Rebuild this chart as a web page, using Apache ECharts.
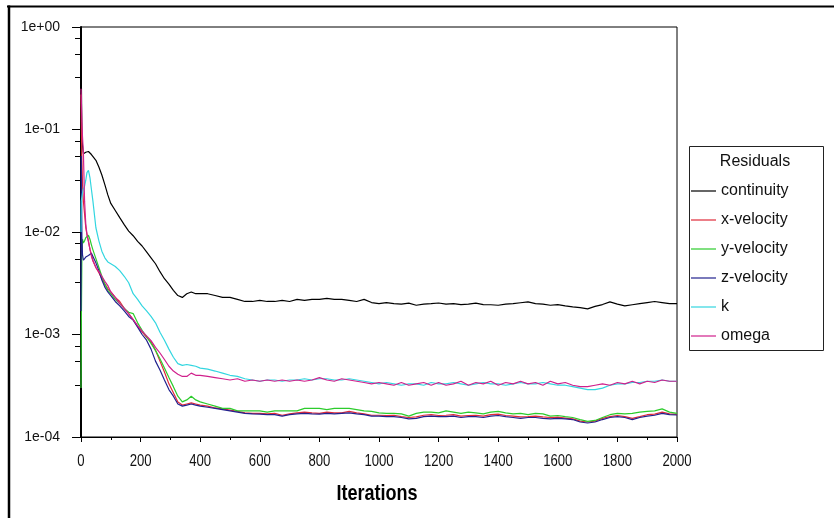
<!DOCTYPE html>
<html>
<head>
<meta charset="utf-8">
<script src="https://cdn.jsdelivr.net/npm/echarts@6/dist/echarts.min.js"></script>
<style>
  html, body { margin: 0; padding: 0; background: #fff; }
  #chart { width: 834px; height: 518px; }
</style>
</head>
<body>
<div id="chart"></div>
<script>
// Solver iteration numbers at which residuals are sampled
const iterations = [
  0, 1, 3, 5, 8, 12, 16, 20, 25, 30, 35, 40, 50, 60, 70, 80, 90, 100, 115, 130,
  145, 160, 175, 190, 205, 220, 235, 250, 265, 280, 295, 310, 325, 340, 355, 370, 385, 400,
  425, 450, 475, 500, 525, 550, 575, 600,
  625, 650, 675, 700, 725, 750, 775, 800,
  825, 850, 875, 900, 925, 950, 975, 1000,
  1025, 1050, 1075, 1100, 1125, 1150, 1175, 1200,
  1225, 1250, 1275, 1300, 1325, 1350, 1375, 1400,
  1425, 1450, 1475, 1500, 1525, 1550, 1575, 1600,
  1625, 1650, 1675, 1700, 1725, 1750, 1775, 1800,
  1825, 1850, 1875, 1900, 1925, 1950, 1975, 2000
];

const continuity = [
  1.0, 0.35, 0.09, 0.07, 0.058, 0.057, 0.06, 0.061, 0.061, 0.059, 0.057, 0.055, 0.05, 0.043, 0.036, 0.029, 0.023, 0.019, 0.0162, 0.0138,
  0.0118, 0.0102, 0.0092, 0.0081, 0.0073, 0.0064, 0.0056, 0.0049, 0.0041, 0.0035, 0.0031, 0.0027, 0.0024, 0.0023, 0.0025, 0.0026, 0.0025, 0.0025,
  0.0025, 0.0024, 0.0023, 0.0023, 0.0022, 0.0021, 0.0021, 0.00215,
  0.0021, 0.0021, 0.00215, 0.0021, 0.0022, 0.00215, 0.0022, 0.0022,
  0.00225, 0.0022, 0.0022, 0.00215, 0.0021, 0.0022, 0.00205, 0.002,
  0.00205, 0.002, 0.00198, 0.00202, 0.00193, 0.00198, 0.002, 0.00203,
  0.00198, 0.002, 0.00196, 0.00198, 0.00202, 0.00196, 0.00195, 0.00193,
  0.00198, 0.002, 0.00204, 0.00208, 0.002, 0.00198, 0.00193, 0.00196,
  0.0019, 0.00186, 0.00183, 0.00178, 0.00188, 0.00196, 0.00208, 0.00198,
  0.0019, 0.00195, 0.002, 0.00205, 0.0021, 0.00205, 0.002, 0.002
];

const xVelocity = [
  0.22, 0.12, 0.05, 0.03, 0.02, 0.015, 0.011, 0.0095, 0.0082, 0.0068, 0.006, 0.0053, 0.0045, 0.004, 0.0035, 0.0031, 0.0028, 0.0026, 0.0023, 0.0021,
  0.0018, 0.0016, 0.0014, 0.0012, 0.00106, 0.00094, 0.00085, 0.0007, 0.00055, 0.00043, 0.00033, 0.00027, 0.00022, 0.000205, 0.00021, 0.000215, 0.00021, 0.000205,
  0.0002, 0.000192, 0.000188, 0.000183, 0.000178, 0.000172, 0.00017, 0.00017,
  0.000168, 0.00017, 0.000163, 0.000168, 0.000172, 0.000175, 0.000172, 0.00017,
  0.000175, 0.000172, 0.000172, 0.000178, 0.000172, 0.000168, 0.000163, 0.000163,
  0.000162, 0.000163, 0.000158, 0.000155, 0.000157, 0.000163, 0.000165, 0.000162,
  0.000163, 0.000165, 0.00016, 0.000162, 0.000163, 0.00016, 0.000165, 0.000167,
  0.000162, 0.00016, 0.000157, 0.000158, 0.00016, 0.000157, 0.000155, 0.000156,
  0.000153, 0.00015, 0.000143, 0.00014, 0.000143, 0.000152, 0.000158, 0.000162,
  0.000158, 0.000152, 0.000158, 0.000165, 0.000167, 0.000175, 0.000168, 0.000166
];

const yVelocity = [
  0.0003, 0.0011, 0.006, 0.0085, 0.0078, 0.0082, 0.0088, 0.0092, 0.0093, 0.0085, 0.0075, 0.0067, 0.0055, 0.0045, 0.0037, 0.0031, 0.0027, 0.0025, 0.0022, 0.002,
  0.0018, 0.00165, 0.0016, 0.0013, 0.0011, 0.00095, 0.00082, 0.0007, 0.00058, 0.00047, 0.00038, 0.00031, 0.00025, 0.00022, 0.00023, 0.00025, 0.00023, 0.00022,
  0.00021, 0.0002, 0.00019, 0.00019, 0.00018, 0.00018, 0.00018, 0.00018,
  0.000175, 0.00018, 0.00018, 0.00018, 0.00018, 0.00019, 0.00019, 0.00019,
  0.000185, 0.00019, 0.00019, 0.00019, 0.000185, 0.00018, 0.000178, 0.000172,
  0.00017, 0.00017, 0.000168, 0.00016, 0.00017, 0.000175, 0.000175, 0.000172,
  0.00018, 0.000175, 0.00017, 0.000175, 0.000172, 0.000168, 0.000175, 0.000178,
  0.000172, 0.000168, 0.00017, 0.000165, 0.00017, 0.000168, 0.00016, 0.000162,
  0.000158, 0.000155, 0.000148, 0.000142, 0.000145, 0.000155, 0.000165, 0.00017,
  0.000168, 0.00017, 0.000175, 0.000178, 0.00018, 0.000188, 0.000175, 0.00017
];

const zVelocity = [
  0.0017, 0.055, 0.009, 0.006, 0.0053, 0.0055, 0.0057, 0.0058, 0.0059, 0.006, 0.0062, 0.0061, 0.005, 0.0042, 0.0034, 0.0029, 0.0026, 0.0024, 0.0021, 0.0019,
  0.0017, 0.0015, 0.00138, 0.00118, 0.001, 0.00088, 0.00072, 0.00055, 0.00045, 0.00036, 0.00029, 0.00025, 0.00021, 0.0002, 0.000205, 0.00021, 0.000205, 0.0002,
  0.000195, 0.00019, 0.000185, 0.00018, 0.000175, 0.00017, 0.000168, 0.000167,
  0.000165, 0.000165, 0.00016, 0.000165, 0.000168, 0.00017, 0.000168, 0.000167,
  0.00017, 0.000168, 0.00017, 0.000172, 0.000168, 0.000165, 0.00016, 0.00016,
  0.000158, 0.000158, 0.000155, 0.00015, 0.000152, 0.000158, 0.00016, 0.000158,
  0.000158, 0.00016, 0.000155, 0.000158, 0.000158, 0.000155, 0.00016, 0.000162,
  0.000158, 0.000155, 0.000152, 0.000155, 0.000155, 0.000152, 0.00015, 0.000152,
  0.00015, 0.000148, 0.00014, 0.000137, 0.00014, 0.000148, 0.000155, 0.000158,
  0.000155, 0.000148, 0.000155, 0.00016, 0.000163, 0.00017, 0.000165, 0.000164
];

const kResidual = [
  0.01, 0.02, 0.022, 0.024, 0.026, 0.028, 0.032, 0.038, 0.04, 0.034, 0.026, 0.02, 0.011, 0.0082, 0.0065, 0.0056, 0.0051, 0.0049, 0.0046, 0.0042,
  0.0037, 0.0032, 0.0025, 0.0022, 0.0019, 0.0017, 0.0015, 0.0013, 0.00105, 0.00088, 0.00072, 0.0006, 0.00052, 0.0005, 0.00051, 0.0005, 0.00049, 0.00047,
  0.00046, 0.00044, 0.00042, 0.0004, 0.00039, 0.00037, 0.00036, 0.00035,
  0.00036, 0.00036, 0.00035, 0.00036, 0.00036, 0.00037, 0.00036, 0.00037,
  0.00037, 0.00036, 0.00036, 0.00037, 0.00036, 0.00035, 0.00034, 0.00033,
  0.00034, 0.00033, 0.00032, 0.00033, 0.00033, 0.00032, 0.00034, 0.00033,
  0.00033, 0.00034, 0.00033, 0.00032, 0.00033, 0.00034, 0.00033, 0.00033,
  0.00032, 0.00033, 0.00034, 0.00033, 0.00033, 0.00034, 0.00033, 0.00032,
  0.00032, 0.00031, 0.0003, 0.00029, 0.00029, 0.0003, 0.00032, 0.00033,
  0.00033, 0.00034, 0.00034, 0.00035, 0.00035, 0.00036, 0.00035, 0.00035
];

const omega = [
  0.25, 0.2, 0.12, 0.085, 0.06, 0.02, 0.012, 0.0095, 0.008, 0.0068, 0.0058, 0.0052, 0.0045, 0.0041, 0.0037, 0.0033, 0.003, 0.0026, 0.0023, 0.002,
  0.0018, 0.0016, 0.0014, 0.00122, 0.00108, 0.00097, 0.00087, 0.00075, 0.00066, 0.00057, 0.00049, 0.00044, 0.00041, 0.00039, 0.00039, 0.00042, 0.0004, 0.0004,
  0.00039, 0.00038, 0.00037, 0.00036, 0.00037, 0.00035, 0.00036, 0.00035,
  0.00036, 0.00035, 0.00036, 0.00035, 0.00036, 0.00035, 0.00036, 0.00038,
  0.00036, 0.00035, 0.00037, 0.00036, 0.00035, 0.00034, 0.00033, 0.00034,
  0.00033, 0.00032, 0.00034, 0.00032, 0.00033, 0.00034, 0.00032, 0.00034,
  0.00032, 0.00033, 0.00035, 0.00032, 0.00034, 0.00033, 0.00035, 0.00032,
  0.00034, 0.00033, 0.00035, 0.00033, 0.00034, 0.00032, 0.00035, 0.00033,
  0.00034, 0.00032, 0.00031, 0.00031, 0.00032, 0.00033, 0.00032, 0.00034,
  0.00033, 0.00035, 0.00033, 0.00035, 0.00034, 0.00036, 0.00035, 0.00035
];

const seriesNames = ['continuity', 'x-velocity', 'y-velocity', 'z-velocity', 'k', 'omega'];
const seriesValues = [continuity, xVelocity, yVelocity, zVelocity, kResidual, omega];
const seriesColors = ['#000000', '#e02a3a', '#2ccc2c', '#22228e', '#33d6e0', '#d0208c'];

const xTicks = [0, 200, 400, 600, 800, 1000, 1200, 1400, 1600, 1800, 2000];
const yDecades = [1e-4, 1e-3, 1e-2, 1e-1, 1];

const plainFont = '"Liberation Sans", Arial, sans-serif';

function expLabel(v) {
  const e = Math.round(Math.log10(v));
  return '1e' + (e < 0 ? '-' : '+') + String(Math.abs(e)).padStart(2, '0');
}

const chart = echarts.init(document.getElementById('chart'), null, { renderer: 'canvas' });

chart.setOption({
  animation: false,
  backgroundColor: '#ffffff',
  grid: {
    left: 81, right: 157, top: 27, bottom: 81,
    show: true, borderColor: '#000', borderWidth: 1, backgroundColor: 'transparent'
  },
  xAxis: {
    type: 'value',
    min: xTicks[0], max: xTicks[xTicks.length - 1], interval: 200,
    axisLine: { show: true, onZero: false, lineStyle: { color: '#000', width: 1 } },
    axisTick: { show: true, length: 5, lineStyle: { color: '#000' } },
    minorTick: { show: true, splitNumber: 2, length: 3, lineStyle: { color: '#000' } },
    splitLine: { show: false },
    axisLabel: { show: false }
  },
  yAxis: {
    type: 'log', logBase: 10,
    min: yDecades[0], max: yDecades[yDecades.length - 1],
    axisLine: { show: true, lineStyle: { color: '#000', width: 2 } },
    axisTick: { show: true, length: 9, lineStyle: { color: '#000' } },
    splitLine: { show: false },
    axisLabel: { fontFamily: plainFont, fontSize: 14, color: '#111', margin: 21, formatter: expLabel }
  },
  legend: {
    orient: 'vertical',
    left: 691, top: 183, padding: 0,
    itemWidth: 25, itemHeight: 14, itemGap: 13,
    icon: 'path://M0,0 L25,0 L25,1.2 L0,1.2 Z',
    symbolKeepAspect: true,
    textStyle: { fontFamily: plainFont, fontSize: 16, color: '#111' },
    data: seriesNames
  },
  series: seriesNames.map(function (name, i) {
    return {
      name: name,
      type: 'line',
      showSymbol: false,
      symbol: 'none',
      clip: true,
      color: seriesColors[i],
      lineStyle: { width: 1.2, color: seriesColors[i] },
      data: iterations.map(function (it, j) { return [it, seriesValues[i][j]]; })
    };
  })
});

// Condensed tick labels along the iteration axis
const x0 = chart.convertToPixel({ xAxisIndex: 0 }, 0);
const yBottom = chart.convertToPixel({ yAxisIndex: 0 }, yDecades[0]);
const graphics = xTicks.map(function (t) {
  return {
    type: 'text',
    x: chart.convertToPixel({ xAxisIndex: 0 }, t), y: yBottom + 25,
    scaleX: 0.82,
    style: { text: String(t), fontFamily: plainFont, fontSize: 16, fill: '#111', textAlign: 'center', textVerticalAlign: 'middle' }
  };
});

// Axis title
graphics.push({
  type: 'text', x: 377, y: 494, scaleX: 0.82,
  style: { text: 'Iterations', fontFamily: plainFont, fontSize: 22, fontWeight: 'bold', fill: '#000', textAlign: 'center', textVerticalAlign: 'middle' }
});

// Minor ticks on the log axis: linear quarter steps within each decade
yDecades.slice(1).forEach(function (top) {
  [0.775, 0.55, 0.325].forEach(function (f) {
    const y = Math.round(chart.convertToPixel({ yAxisIndex: 0 }, top * f)) + 0.5;
    graphics.push({ type: 'line', shape: { x1: x0 - 6, y1: y, x2: x0, y2: y }, style: { stroke: '#000', lineWidth: 1 }, silent: true });
  });
});

// Legend frame and heading
graphics.push({ type: 'rect', shape: { x: 689.5, y: 146.5, width: 134, height: 204 }, style: { fill: 'none', stroke: '#222', lineWidth: 1 }, z: 10 });
graphics.push({ type: 'text', x: 755, y: 162, style: { text: 'Residuals', fontFamily: plainFont, fontSize: 16, fill: '#111', textAlign: 'center', textVerticalAlign: 'middle' }, z: 10 });

// Outer frame edges
graphics.push({ type: 'line', shape: { x1: 7, y1: 6.5, x2: 834, y2: 6.5 }, style: { stroke: '#000', lineWidth: 2 } });
graphics.push({ type: 'line', shape: { x1: 9, y1: 5.5, x2: 9, y2: 518 }, style: { stroke: '#000', lineWidth: 2.5 } });

chart.setOption({ graphic: graphics });
</script>
</body>
</html>
